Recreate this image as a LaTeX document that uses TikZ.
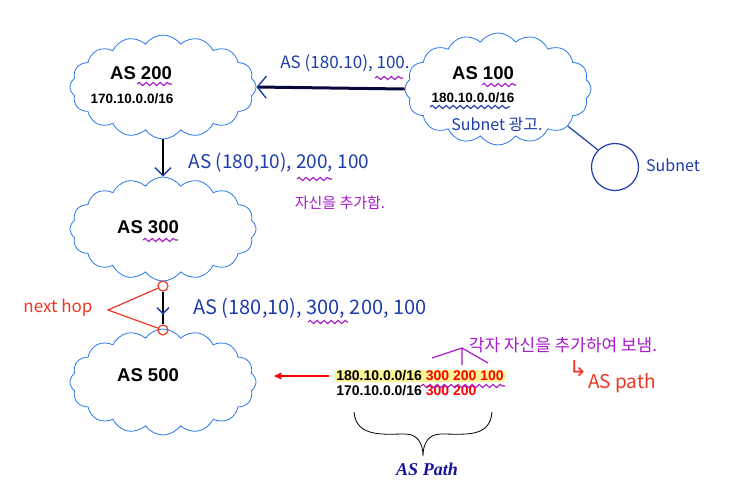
\documentclass[tikz,border=0pt]{standalone}
\usepackage{fontspec}
\setmainfont{Liberation Sans}
\newfontfamily\hand{Noto Sans CJK KR}
\newfontfamily\symb{DejaVu Sans}
\newfontfamily\serifbi{Liberation Serif}
\usetikzlibrary{arrows.meta,positioning,shapes.symbols,decorations.pathmorphing,decorations.markings}
\definecolor{cloudblue}{RGB}{40,120,235}
\definecolor{pen}{RGB}{30,60,170}
\definecolor{markpurple}{RGB}{165,25,200}
\definecolor{redpen}{RGB}{235,55,35}
\definecolor{hilite}{RGB}{252,245,150}
\definecolor{navy}{RGB}{20,20,150}

\begin{document}
\begin{tikzpicture}[x=1pt, y=-1pt,
  asbox/.style={cloud, cloud puffs=16, cloud puff arc=110, cloud ignores aspect, draw=cloudblue, line width=0.8pt, minimum width=186pt, minimum height=104pt, inner sep=0},
  astext/.style={font=\bfseries\fontsize{18.5}{20}\selectfont, inner sep=0},
  ipnet/.style={font=\bfseries\fontsize{13.5}{15}\selectfont, inner sep=0},
  note/.style={font=\hand\fontsize{17}{19}\selectfont, text=pen, inner sep=0},
  mnote/.style={font=\hand\fontsize{15}{17}\selectfont, text=markpurple, inner sep=0},
  rnote/.style={font=\hand\fontsize{17}{19}\selectfont, text=redpen, inner sep=0},
  row/.style={font=\bfseries\fontsize{14}{16}\selectfont, inner xsep=2pt, inner ysep=1pt},
  hop/.style={circle, draw=redpen, line width=1.2pt, minimum size=10pt, inner sep=0},
  wiggle/.style={draw=markpurple, line width=1.1pt, decorate, decoration={snake, segment length=7pt, amplitude=1.6pt}},
  pipe/.style={line width=3pt, draw=navy!40!black, -{Straight Barb[length=9pt, width=22pt, color=pen, line width=1.4pt]}},
  drop/.style={line width=2pt, draw=black, -{Straight Barb[length=8pt, width=16pt, color=pen, line width=1.4pt]}},
  redarrow/.style={draw=red, line width=2pt, -{Latex[length=8pt, width=8pt]}}
]
\useasboundingbox (0,0) rectangle (734,499);

% --- autonomous systems
\node[asbox] (as200) at (163,87) {};
\node[asbox, minimum height=112pt] (as100) at (498,89) {};
\node[asbox] (as300) at (163,229) {};
\node[asbox, minimum height=106pt] (as500) at (163,382) {};
\node[astext] (t200) at (141,73) {AS 200};
\node[ipnet] (ip200) at (132,99) {170.10.0.0/16};
\node[astext] (t100) at (483,73) {AS 100};
\node[ipnet] (ip100) at (473,98) {180.10.0.0/16};
\node[note, font=\hand\fontsize{16}{18}\selectfont] (adv) at (497,124) {Subnet 광고.};
\node[astext] (t300) at (148,227) {AS 300};
\node[astext] (t500) at (148,375) {AS 500};

% --- subnet
\node[circle, draw=pen, line width=1.2pt, minimum size=47pt, inner sep=0] (subnet) at (615,167) {};
\draw[pen, line width=1.2pt] (as100.-28) -- (subnet.135);
\node[note, font=\hand\fontsize{16}{18}\selectfont] (sublbl) at (673,165) {Subnet};

% --- updates
\draw[pipe] (as100.west) -- (as200.east);
\node[note] (adv1) at (345,63) {AS (180.10), 100.};
\draw[drop] (as200.south) -- (as300.north);
\node[note, font=\hand\fontsize{19}{21}\selectfont] (adv2) at (279,163) {AS (180,10), 200, 100};
\node[mnote] (add) at (340,203) {자신을 추가함.};

% --- next hop
\node[hop] (nh1) at (163,286) {};
\node[hop] (nh2) at (163,330) {};
\coordinate (nhtip) at (108,310);
\draw[redpen, line width=1.2pt] (nh1) -- (nhtip) -- (nh2);
\node[rnote] (nhlbl) at (58,308) {next hop};
\draw[line width=2pt, postaction={decorate}, decoration={markings, mark=at position 0.7 with {\arrow{Straight Barb[length=6pt, width=12pt, color=pen, line width=1.3pt]}}}] (nh1) -- (nh2);
\node[note, font=\hand\fontsize{20}{22}\selectfont] (adv3) at (310,308) {AS (180,10), 300, 200, 100};

% --- table in AS 500
\node[row, fill=hilite, rounded corners=4pt] (row1) at (420,376) {180.10.0.0/16 \textcolor{red}{300 200 100}};
\node[row, anchor=north west] (row2) at ([yshift=-2pt]row1.south west) {170.10.0.0/16 \textcolor{red}{300 200}};
\draw[redarrow, shorten <=5pt, shorten >=17pt] (row1.west) -- (row1.west -| as500.east);
\draw[markpurple, line width=1.2pt] (432,358) -- (462,348) -- (488,363) (462,348) -- (462,365);
\node[mnote, font=\hand\fontsize{17}{19}\selectfont] (each) at (563,345) {각자 자신을 추가하여 보냄.};
\node[rnote, font=\symb\fontsize{22}{24}\selectfont] (hook) at (578,369) {↳};
\node[rnote, font=\hand\fontsize{19}{21}\selectfont] (aspath) at (622,383) {AS path};

% --- brace
\draw[line width=0.8pt] (354,412) .. controls (356,438) and (385,434) .. (405,434) .. controls (418,434) and (423,444) .. (423,456) .. controls (423,444) and (428,434) .. (441,434) .. controls (465,434) and (490,438) .. (492,412);
\node[font=\serifbi\bfseries\itshape\fontsize{18}{20}\selectfont, text=navy] (pathlbl) at (427,469) {AS Path};

% --- underlines
\draw[wiggle] (137,84) -- (172,84);
\draw[wiggle] (482,85) -- (516,85);
\draw[wiggle, draw=pen] (430,107) -- (510,107);
\draw[wiggle] (375,78) -- (403,78);
\draw[wiggle] (297,179) -- (332,179);
\draw[wiggle] (143,240) -- (178,240);
\draw[wiggle] (308,322) -- (348,322);
\draw[wiggle] (421,386) -- (505,386);
\end{tikzpicture}
\end{document}
